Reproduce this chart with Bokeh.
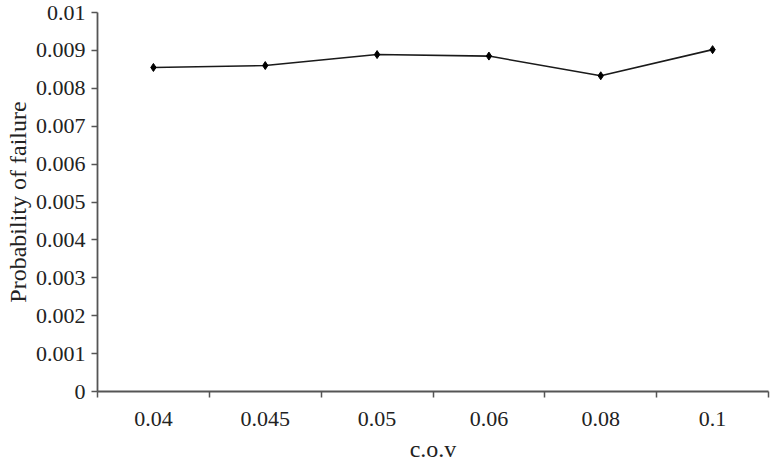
from bokeh.plotting import figure
from bokeh.models import Range1d, FixedTicker, CustomJSTickFormatter, ColumnDataSource
from bokeh.embed import file_html
from bokeh.resources import INLINE

# ---- data ----
cov_labels = ["0.04", "0.045", "0.05", "0.06", "0.08", "0.1"]
prob_failure = [0.00855, 0.0086, 0.00889, 0.00885, 0.00833, 0.00902]
y_ticks = [0, 0.001, 0.002, 0.003, 0.004, 0.005, 0.006, 0.007, 0.008, 0.009, 0.01]

n = len(cov_labels)
x_pos = [i + 0.5 for i in range(n)]
boundaries = list(range(n + 1))

src = ColumnDataSource(dict(x=x_pos, y=prob_failure))

FONT = "Liberation Serif"

p = figure(width=776, height=468, output_backend="svg", toolbar_location=None,
           x_range=Range1d(0, n), y_range=Range1d(0, 0.01),
           min_border_left=97, min_border_right=8, min_border_top=12, min_border_bottom=77)
p.outline_line_color = None
p.xgrid.visible = False
p.ygrid.visible = False
p.background_fill_color = "white"
p.border_fill_color = "white"

p.line("x", "y", source=src, line_color="#1a1a1a", line_width=1.6)
p.scatter("x", "y", source=src, marker="diamond", size=8, fill_color="black", line_color="black")

# x axis: labels at category centres, tick marks at category boundaries
xa = p.xaxis[0]
xa.ticker = FixedTicker(ticks=x_pos, minor_ticks=boundaries)
xa.formatter = CustomJSTickFormatter(args=dict(labels=cov_labels),
                                     code="return labels[Math.floor(tick)] || '';")
xa.major_tick_in = 0
xa.major_tick_out = 0
xa.minor_tick_in = 0
xa.minor_tick_out = 6
xa.minor_tick_line_color = "#555555"
xa.minor_tick_line_width = 1.5
xa.axis_line_color = "#555555"
xa.axis_line_width = 1.8
xa.axis_label = "c.o.v"
xa.axis_label_text_font = FONT
xa.axis_label_text_font_style = "normal"
xa.axis_label_text_font_size = "24px"
xa.axis_label_text_color = "#222222"
xa.axis_label_standoff = 7
xa.major_label_text_font = FONT
xa.major_label_text_font_size = "22px"
xa.major_label_text_color = "#222222"
xa.major_label_standoff = 14

ya = p.yaxis[0]
ya.ticker = FixedTicker(ticks=y_ticks, minor_ticks=[])
ya.formatter = CustomJSTickFormatter(code="return tick.toFixed(3).replace(/0+$/, '').replace(/\\.$/, '');")
ya.major_tick_in = 0
ya.major_tick_out = 6
ya.major_tick_line_color = "#555555"
ya.major_tick_line_width = 1.5
ya.minor_tick_line_color = None
ya.axis_line_color = "#555555"
ya.axis_line_width = 1.8
ya.axis_label = "Probability of failure"
ya.axis_label_text_font = FONT
ya.axis_label_text_font_style = "normal"
ya.axis_label_text_font_size = "24px"
ya.axis_label_text_color = "#222222"
ya.axis_label_standoff = 2
ya.major_label_text_font = FONT
ya.major_label_text_font_size = "22px"
ya.major_label_text_color = "#222222"
ya.major_label_standoff = 6

open("out.html", "w").write(file_html(p, INLINE))
